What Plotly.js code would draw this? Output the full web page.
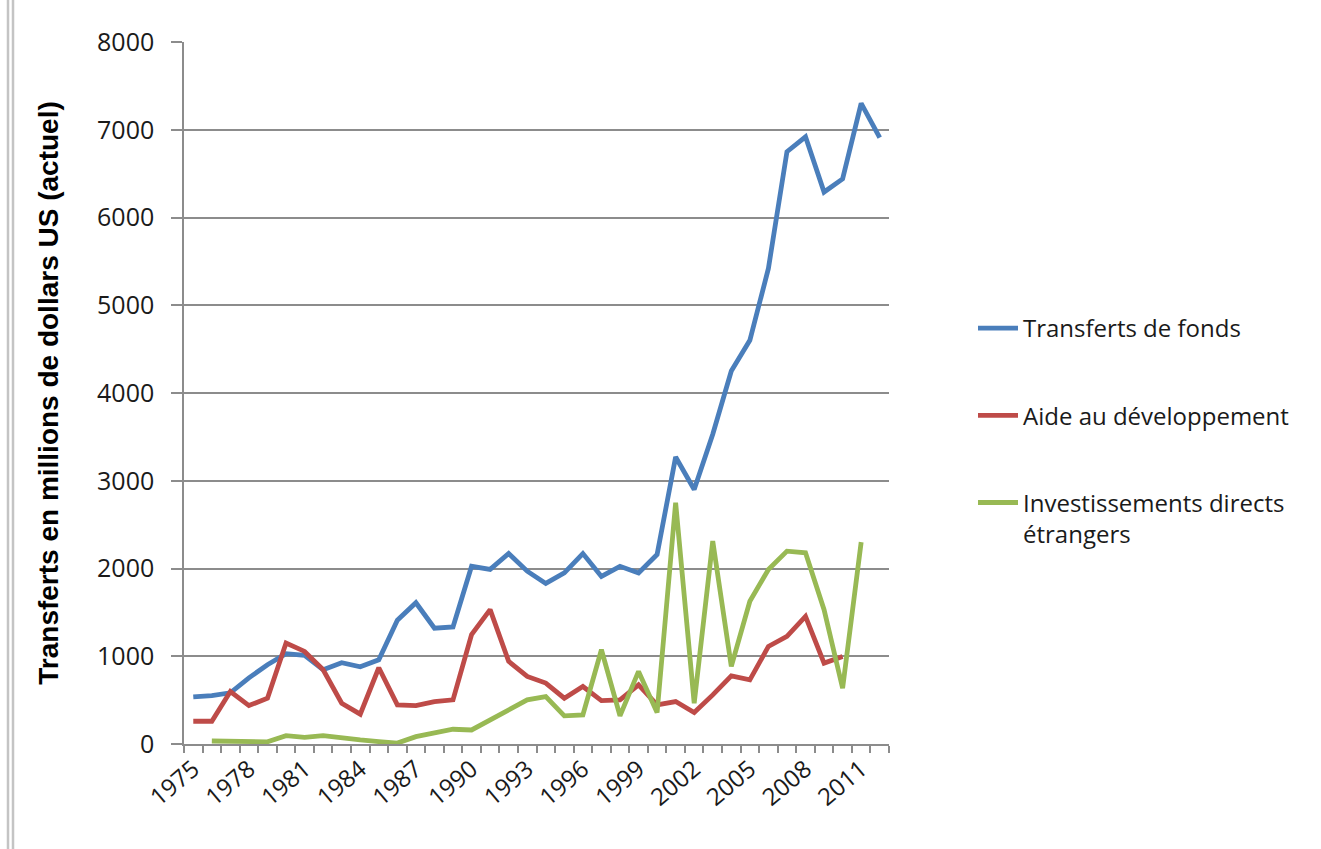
<!DOCTYPE html>
<html>
<head>
<meta charset="utf-8">
<script src="https://cdn.plot.ly/plotly-3.0.1.min.js"></script>
<style>
html,body{margin:0;padding:0;background:#fff;}
#chart{width:1321px;height:849px;}
</style>
</head>
<body>
<div id="chart"></div>
<script>
const years = [1975,1976,1977,1978,1979,1980,1981,1982,1983,1984,
               1985,1986,1987,1988,1989,1990,1991,1992,1993,1994,
               1995,1996,1997,1998,1999,2000,2001,2002,2003,2004,
               2005,2006,2007,2008,2009,2010,2011,2012];

const transferts = [537,552,583,754,903,1030,1010,846,926,880,
                    960,1410,1610,1320,1335,2025,1990,2170,1970,1830,
                    1950,2170,1910,2025,1950,2160,3270,2900,3530,4250,
                    4600,5420,6750,6920,6290,6440,7300,6910];

const aide = [259,259,598,438,522,1151,1055,846,465,340,
              869,446,438,484,503,1246,1531,941,770,694,
              522,655,495,503,674,446,484,358,560,777,
              731,1112,1227,1455,922,998,null,null];

const ide = [null,34,30,19,25,95,76,95,65,46,
             27,10,84,125,168,160,274,389,503,541,
             320,331,1074,320,827,358,2750,465,2312,884,
             1627,1989,2198,2179,1531,636,2301,null];

const tickYears = [1975,1978,1981,1984,1987,1990,1993,1996,1999,2002,2005,2008,2011];
const seriesNames = ["Transferts de fonds", "Aide au développement", "Investissements directs<br>étrangers"];
const seriesColors = ["#4A7EBB", "#BE4B48", "#98B954"];

const gridCol = "#8c8c8c";
const txtCol = "#1a1a1a";

const traces = [transferts, aide, ide].map((vals, i) => ({
  type: "scatter",
  mode: "lines",
  x: years,
  y: vals,
  name: seriesNames[i],
  legendgroup: "g" + i,
  line: {color: seriesColors[i], width: 4.8},
  connectgaps: false,
  hoverinfo: "x+y+name"
}));

// plot area: x 184..889, y 42..744
const L = 184, R = 889, T = 42, B = 744;
const pw = R - L, ph = B - T;
const px = v => (v - L) / pw;
const py = v => (B - v) / ph;

const layout = {
  width: 1321,
  height: 849,
  paper_bgcolor: "#ffffff",
  plot_bgcolor: "#ffffff",
  margin: {l: L, r: 1321 - R, t: T, b: 849 - B, pad: 0},
  showlegend: true,
  legend: {
    xref: "container", yref: "container",
    x: 973 / 1321, y: 1 - 306 / 849,
    xanchor: "left", yanchor: "top",
    traceorder: "grouped",
    tracegroupgap: 53,
    valign: "top",
    font: {family: "Open Sans, sans-serif", size: 24, color: txtCol},
    bgcolor: "rgba(0,0,0,0)",
    itemwidth: 40
  },
  xaxis: {
    type: "linear",
    range: [1974.5, 2012.5],
    tickmode: "array",
    tickvals: tickYears,
    ticktext: tickYears.map(String),
    tickangle: -40,
    ticks: "",
    showgrid: false,
    zeroline: false,
    showline: true,
    linecolor: gridCol,
    linewidth: 1.5,
    tickfont: {family: "Open Sans, sans-serif", size: 24, color: txtCol},
    minor: {
      tickmode: "linear",
      tick0: 1974.5,
      dtick: 1,
      ticks: "outside",
      ticklen: 7,
      tickwidth: 1.5,
      tickcolor: gridCol,
      showgrid: false
    },
    fixedrange: true
  },
  yaxis: {
    range: [0, 8000],
    tickmode: "linear",
    tick0: 0,
    dtick: 1000,
    ticks: "outside",
    ticklen: 11,
    tickwidth: 1.5,
    tickcolor: gridCol,
    showgrid: true,
    gridcolor: gridCol,
    gridwidth: 1.5,
    zeroline: false,
    showline: true,
    linecolor: gridCol,
    linewidth: 1.5,
    ticklabelstandoff: 12,
    tickfont: {family: "Open Sans, sans-serif", size: 25, color: txtCol},
    title: {
      text: "Transferts en millions de dollars US (actuel)",
      font: {family: "Liberation Sans, Arial, sans-serif", size: 28, color: "#000", weight: "bold"},
      standoff: 30
    },
    fixedrange: true
  },
  shapes: [
    {type: "line", xref: "paper", yref: "paper", x0: px(8), x1: px(8), y0: py(0), y1: py(849),
     line: {color: "#c4c4c4", width: 2.5}},
    {type: "line", xref: "paper", yref: "paper", x0: px(13), x1: px(13), y0: py(0), y1: py(849),
     line: {color: "#c4c4c4", width: 2.5}}
  ]
};

Plotly.newPlot("chart", traces, layout, {displayModeBar: false});
</script>
</body>
</html>
